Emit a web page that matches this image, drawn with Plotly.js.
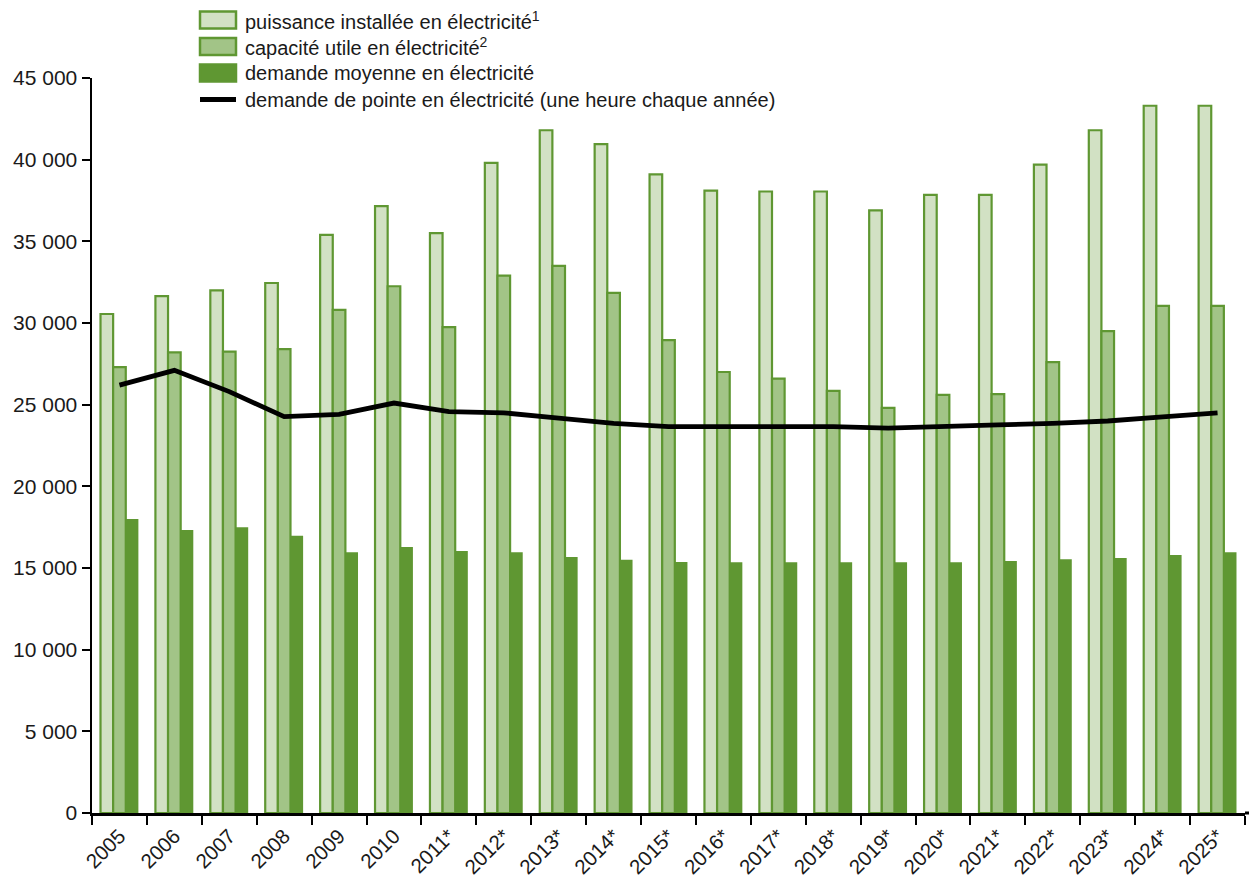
<!DOCTYPE html>
<html>
<head>
<meta charset="utf-8">
<script src="https://cdn.plot.ly/plotly-3.0.1.min.js"></script>
<style>
  html, body { margin: 0; padding: 0; background: #ffffff; }
  #chart { width: 1249px; height: 886px; }
</style>
</head>
<body>
<div id="chart"></div>
<script>
// ---- Data ----
const years = ["2005","2006","2007","2008","2009","2010","2011*","2012*","2013*","2014*","2015*",
               "2016*","2017*","2018*","2019*","2020*","2021*","2022*","2023*","2024*","2025*"];

const puissanceInstallee = [30550, 31650, 32000, 32450, 35400, 37150, 35500, 39800, 41800, 40950, 39100,
                            38100, 38050, 38050, 36900, 37850, 37850, 39700, 41800, 43300, 43300];

const capaciteUtile = [27300, 28200, 28250, 28400, 30800, 32250, 29750, 32900, 33500, 31850, 28950,
                       27000, 26600, 25850, 24800, 25600, 25650, 27600, 29500, 31050, 31050];

const demandeMoyenne = [18000, 17330, 17500, 16980, 15960, 16290, 16040, 15960, 15680, 15500, 15370,
                        15350, 15350, 15350, 15350, 15350, 15430, 15530, 15610, 15800, 15960];

const demandePointe = [26200, 27100, 25800, 24270, 24410, 25100, 24570, 24500, 24170, 23860, 23650,
                       23650, 23650, 23650, 23560, 23630, 23760, 23860, 24000, 24250, 24500];

const legendLabels = [
  "puissance installée en électricité<sup>1</sup>",
  "capacité utile en électricité<sup>2</sup>",
  "demande moyenne en électricité",
  "demande de pointe en électricité (une heure chaque année)"
];

// ---- Styles ----
const GREEN_DARK = "#5f9732";
const GREEN_MED = "#a2c487";
const GREEN_LIGHT = "#d2e1c4";
const FONT = "Liberation Sans, Arial, sans-serif";

const W = 1249, H = 886;
const M = { l: 92, r: 4, t: 78, b: 73 };
const PW = W - M.l - M.r, PH = H - M.t - M.b;
const px = x => (x - M.l) / PW;
const py = y => (H - M.b - y) / PH;

const traces = [
  {
    type: "bar", x: years, y: puissanceInstallee, name: legendLabels[0],
    marker: { color: GREEN_LIGHT, line: { color: GREEN_DARK, width: 2.2 } },
    showlegend: false, hoverinfo: "y"
  },
  {
    type: "bar", x: years, y: capaciteUtile, name: legendLabels[1],
    marker: { color: GREEN_MED, line: { color: GREEN_DARK, width: 2.2 } },
    showlegend: false, hoverinfo: "y"
  },
  {
    type: "bar", x: years, y: demandeMoyenne, name: legendLabels[2],
    marker: { color: GREEN_DARK, line: { color: GREEN_DARK, width: 0 } },
    showlegend: false, hoverinfo: "y"
  },
  {
    type: "scatter", mode: "lines", x: years, y: demandePointe, name: legendLabels[3],
    line: { color: "#000000", width: 4.8 },
    showlegend: false, hoverinfo: "y"
  }
];

// ---- Custom legend (shapes + annotations) ----
const rowsY = [20, 46.5, 73, 99.5];
const swL = 200, swR = 236, swH = 8.5;
const swFill = [GREEN_LIGHT, GREEN_MED, GREEN_DARK];
const shapes = [];
const annotations = [];
for (let i = 0; i < 3; i++) {
  shapes.push({
    type: "rect", xref: "paper", yref: "paper",
    x0: px(swL), x1: px(swR), y0: py(rowsY[i] + swH), y1: py(rowsY[i] - swH),
    fillcolor: swFill[i], line: { color: GREEN_DARK, width: 2.5 }
  });
}
shapes.push({
  type: "line", xref: "paper", yref: "paper",
  x0: px(swL), x1: px(swR), y0: py(rowsY[3]), y1: py(rowsY[3]),
  line: { color: "#000000", width: 4.8 }
});
// x-axis line extension to the right edge of the picture
shapes.push({
  type: "line", xref: "paper", yref: "paper",
  x0: 1, x1: px(1249), y0: 0, y1: 0,
  line: { color: "#000000", width: 3 }
});
for (let i = 0; i < 4; i++) {
  annotations.push({
    xref: "paper", yref: "paper", x: px(243), y: py(rowsY[i]),
    xanchor: "left", yanchor: "middle", showarrow: false,
    text: legendLabels[i],
    font: { family: FONT, size: 20, color: "#1a1a1a" }
  });
}

const layout = {
  width: W, height: H,
  margin: M,
  paper_bgcolor: "#ffffff", plot_bgcolor: "#ffffff",
  separators: ", ",
  barmode: "group", bargap: 0.31, bargroupgap: 0,
  showlegend: false,
  font: { family: FONT, size: 20, color: "#1a1a1a" },
  xaxis: {
    type: "category",
    showline: true, linecolor: "#000000", linewidth: 3,
    ticks: "outside", tickson: "boundaries", ticklen: 9, tickwidth: 2, tickcolor: "#000000",
    tickangle: -45, tickfont: { family: FONT, size: 20.5, color: "#1a1a1a" },
    showgrid: false, zeroline: false, automargin: false
  },
  yaxis: {
    range: [0, 45000], dtick: 5000, tickformat: ",d",
    showline: true, linecolor: "#000000", linewidth: 2.5,
    ticks: "outside", ticklen: 8, tickwidth: 2, tickcolor: "#000000",
    tickfont: { family: FONT, size: 21, color: "#1a1a1a" },
    showgrid: false, zeroline: false, automargin: false
  },
  shapes: shapes,
  annotations: annotations
};

Plotly.newPlot("chart", traces, layout, { displayModeBar: false, staticPlot: true });
</script>
</body>
</html>
